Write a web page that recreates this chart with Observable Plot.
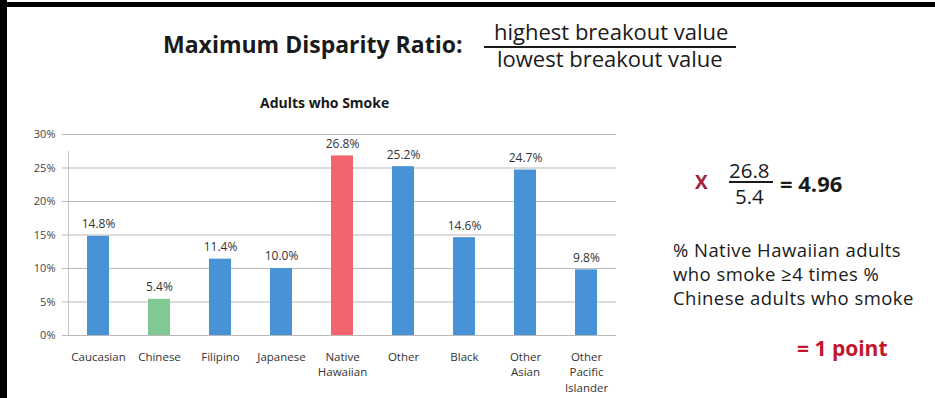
<!DOCTYPE html>
<html>
<head>
<meta charset="utf-8">
<script src="https://cdn.jsdelivr.net/npm/d3@7"></script>
<script src="https://cdn.jsdelivr.net/npm/@observablehq/plot@0.6"></script>
<style>
  html, body { margin: 0; padding: 0; background: #fff; }
  #page { position: relative; width: 935px; height: 398px; overflow: hidden; background: #fff; font-family: "Open Sans", Lato, sans-serif; color: #1a1a1a; }
  #bt { position: absolute; left: 0; top: 2px; width: 935px; height: 5px; background: #000; }
  #bl { position: absolute; left: 0; top: 0; width: 7px; height: 398px; background: #000; }
  .abs { position: absolute; white-space: nowrap; line-height: 1; }
  #chart { position: absolute; left: 0; top: 90px; }
</style>
</head>
<body>
<div id="page">
  <div id="bt"></div><div id="bl"></div>
  <div class="abs" style="left:163px; top:33px; font-size:23px; font-weight:700;">Maximum Disparity Ratio:</div>
  <div class="abs" style="left:494px; top:20px; font-size:22px;">highest breakout value</div>
  <div class="abs" style="left:484px; top:46px; width:252px; height:2px; background:#1a1a1a;"></div>
  <div class="abs" style="left:497px; top:47px; font-size:22px;">lowest breakout value</div>
  <div class="abs" style="left:260px; top:96px; font-size:14px; font-weight:700;">Adults who Smoke</div>

  <div class="abs" style="left:695px; top:173px; font-size:19px; font-weight:700; color:#a3203f;">X</div>
  <div class="abs" style="left:729px; top:160px; font-size:20.5px;">26.8</div>
  <div class="abs" style="left:729px; top:181px; width:44px; height:1.5px; background:#1a1a1a;"></div>
  <div class="abs" style="left:735px; top:186px; font-size:20.5px;">5.4</div>
  <div class="abs" style="left:780px; top:172px; font-size:22px; font-weight:700;">= 4.96</div>

  <div class="abs" style="left:673px; top:238px; font-size:18.5px; letter-spacing:0.45px; line-height:24px;">% Native Hawaiian adults<br>who smoke ≥4 times %<br>Chinese adults who smoke</div>
  <div class="abs" style="left:797px; top:338px; font-size:21px; font-weight:700; color:#c4162a;">= 1 point</div>

  <div id="chart"></div>
</div>
<script>
const categories = ["Caucasian", "Chinese", "Filipino", "Japanese", "Native\nHawaiian", "Other", "Black", "Other\nAsian", "Other\nPacific\nIslander"];
const smokePct = [14.8, 5.4, 11.4, 10.0, 26.8, 25.2, 14.6, 24.7, 9.8];
const yTicks = [0, 5, 10, 15, 20, 25, 30];

const data = categories.map((c, i) => ({cat: c, v: smokePct[i]}));
const maxV = d3.max(smokePct), minV = d3.min(smokePct);
const blue = "#4793d6", green = "#80c995", red = "#f2646c";
const fillOf = d => d.v === maxV ? red : d.v === minV ? green : blue;

const chart = Plot.plot({
  width: 640,
  height: 308,
  marginTop: 44,
  marginBottom: 63,
  marginLeft: 67,
  marginRight: 24,
  style: {fontFamily: "'Open Sans', Lato, sans-serif", fontSize: "11px", color: "#333", background: "transparent"},
  x: {domain: categories, paddingInner: 0.64, paddingOuter: 0.32, axis: null, label: null},
  y: {domain: [0, 30], axis: null, label: null},
  marks: [
    Plot.ruleY(yTicks, {stroke: "#b9b9b9", strokeWidth: 1, insetLeft: -5}),
    Plot.ruleX([categories[0]], {x: () => categories[0], dx: -30, y1: 0, y2: 27.5, stroke: "#c4c4c4"}),
    Plot.axisY({ticks: yTicks, tickFormat: d => d + "%", tickSize: 0, tickPadding: 12, fill: "#444", fontSize: 11, label: null}),
    Plot.barY(data, {x: "cat", y: "v", fill: fillOf}),
    Plot.text(data, {x: "cat", y: "v", text: d => d.v.toFixed(1) + "%", dy: -12, fill: "#333", fontSize: 12}),
    Plot.axisX({tickSize: 0, tickPadding: 14, fill: "#333", fontSize: 11.5, lineHeight: 1.36, label: null})
  ]
});
document.getElementById("chart").appendChild(chart);
</script>
</body>
</html>
